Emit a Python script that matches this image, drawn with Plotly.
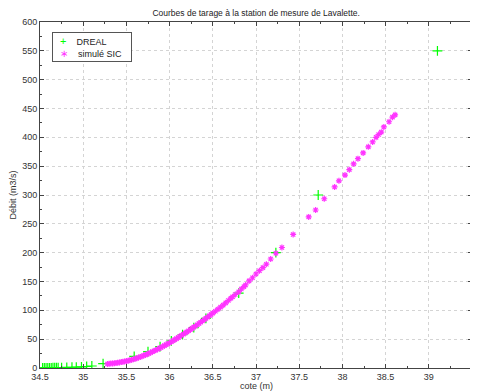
import plotly.graph_objects as go

# DREAL rating curve points (cote m, débit m3/s)
dreal_cote = [34.53, 34.55, 34.57, 34.59, 34.61, 34.63, 34.65, 34.67, 34.69, 34.71,
              34.75, 34.81, 34.87, 34.92, 34.98, 35.04, 35.10, 35.23, 35.59, 35.75,
              35.89, 36.02, 36.15, 36.28, 36.42, 36.80, 37.23, 37.72, 39.10]
dreal_debit = [0.1, 0.1, 0.2, 0.2, 0.3, 0.3, 0.4, 0.4, 0.5, 0.6,
               0.8, 1.0, 1.3, 1.6, 2.0, 2.6, 3.5, 7.5, 20, 28.5,
               37, 47, 58, 70, 86, 130, 200, 300, 550]

# Simulated SIC points
sic_cote = [35.28, 35.30, 35.32, 35.34, 35.36, 35.38, 35.40, 35.42, 35.44, 35.46,
            35.48, 35.50, 35.52, 35.54, 35.56, 35.58, 35.60, 35.62, 35.64, 35.66,
            35.68, 35.70, 35.72, 35.74, 35.76, 35.78, 35.80, 35.82, 35.84, 35.86,
            35.88, 35.90, 35.92, 35.94, 35.96, 35.98, 36.00, 36.02, 36.04, 36.06,
            36.08, 36.10, 36.12, 36.14, 36.16, 36.18, 36.20, 36.22, 36.24, 36.26,
            36.28, 36.30, 36.32, 36.34, 36.36, 36.38, 36.40, 36.42, 36.44, 36.46,
            36.48, 36.50, 36.53, 36.56, 36.59, 36.62, 36.65, 36.68, 36.71, 36.73,
            36.76, 36.80, 36.83, 36.86, 36.88, 36.92, 36.96, 37.00, 37.04, 37.08,
            37.12, 37.17, 37.23, 37.30, 37.43, 37.61, 37.69, 37.79, 37.91, 37.96,
            38.03, 38.08, 38.13, 38.18, 38.24, 38.30, 38.35, 38.39, 38.42, 38.45,
            38.48, 38.54, 38.58, 38.61]
sic_debit = [7.0, 7.3, 7.7, 8.0, 8.4, 8.8, 9.2, 9.7, 10.2, 10.8,
             11.4, 12.0, 12.7, 13.5, 14.3, 15.2, 16.1, 17.1, 18.1, 19.2,
             20.3, 21.5, 22.7, 24.0, 25.3, 26.7, 28.1, 29.5, 31.0, 32.5,
             34.0, 35.6, 37.2, 38.8, 40.5, 42.2, 43.9, 45.6, 47.4, 49.2,
             51.0, 52.9, 54.8, 56.7, 58.6, 60.6, 62.6, 64.6, 66.6, 68.7,
             70.8, 72.9, 75.0, 77.2, 79.4, 81.6, 83.8, 86.0, 88.3, 90.6,
             92.9, 95.2, 98.5, 102, 105.5, 109, 113, 117, 121, 123.6,
             127.5, 132, 137, 141, 144, 151, 156.5, 163, 168.7, 174,
             180, 189, 199, 209, 231.6, 262, 274, 293.5, 314, 324.6,
             334.5, 344, 354, 363, 373, 383.5, 392, 400, 405, 409,
             418, 427, 435, 439]

x_ticks = [34.5, 35, 35.5, 36, 36.5, 37, 37.5, 38, 38.5, 39, 39.5]
x_labels = ["34.5", "35", "35.5", "36", "36.5", "37", "37.5", "38", "38.5", "39", "39.5"]
y_ticks = [0, 50, 100, 150, 200, 250, 300, 350, 400, 450, 500, 550, 600]

GREEN = "#00ff00"
MAGENTA = "#ff33ff"

fig = go.Figure()
fig.add_trace(go.Scatter(
    x=dreal_cote, y=dreal_debit, mode="markers", name="DREAL",
    marker=dict(symbol="cross-thin", size=7, line=dict(color=GREEN, width=1.2), color=GREEN),
))
fig.add_trace(go.Scatter(
    x=sic_cote, y=sic_debit, mode="markers", name="simulé SIC",
    marker=dict(symbol="asterisk-open", size=5, line=dict(color=MAGENTA, width=1.2), color=MAGENTA),
))

axis_common = dict(
    showline=True, linecolor="#444444", linewidth=1, mirror="ticks",
    ticks="inside", ticklen=4, tickcolor="#444444",
    showgrid=True, gridcolor="#d4d4d4", griddash="dot", gridwidth=1,
    zeroline=False, tickfont=dict(size=9, color="#333333"), automargin=False,
)

fig.update_xaxes(
    range=[34.5, 39.5], tickvals=x_ticks, ticktext=x_labels, ticklabelstandoff=0,
    minor=dict(ticks="inside", dtick=0.25, tick0=34.5, ticklen=2, tickcolor="#444444", showgrid=False),
    **axis_common,
)
fig.update_yaxes(
    range=[0, 600], tickvals=y_ticks,
    title=dict(text="Débit (m3/s)", font=dict(size=9, color="#333333"), standoff=4),
    minor=dict(ticks="inside", dtick=25, tick0=0, ticklen=2, tickcolor="#444444", showgrid=False),
    **axis_common,
)

# x-axis title
fig.add_annotation(text="cote (m)", x=0.5, y=-0.053, xref="paper", yref="paper",
                   yanchor="middle", xanchor="center", showarrow=False,
                   font=dict(size=9, color="#333333"))

# compact legend box
legend_text = (
    f"&nbsp;&nbsp;<span style='color:{GREEN};font-size:11px'>+</span>&nbsp;&nbsp;&nbsp;&nbsp;DREAL<br>"
    f"&nbsp;&nbsp;<span style='color:{MAGENTA};font-size:10px'>∗</span>&nbsp;&nbsp;&nbsp;&nbsp;simulé SIC&nbsp;&nbsp;&nbsp;"
)
fig.add_annotation(text=legend_text, x=0.028, y=0.97, xref="paper", yref="paper",
                   xanchor="left", yanchor="top", align="left", showarrow=False,
                   bgcolor="white", bordercolor="#555555", borderwidth=1, borderpad=2,
                   font=dict(size=9, color="#222222"))

fig.update_layout(
    width=470, height=384,
    margin=dict(l=32, r=6, t=14, b=24, autoexpand=False),
    paper_bgcolor="white", plot_bgcolor="white",
    font=dict(family="Liberation Sans, Arial, sans-serif", size=9, color="#333333"),
    title=dict(text="Courbes de tarage à la station de mesure de Lavalette.",
               x=0.528, xanchor="center", y=0.987, yanchor="middle",
               font=dict(size=8.5, color="#222222")),
    showlegend=False,
)

fig.write_html("out.html")
